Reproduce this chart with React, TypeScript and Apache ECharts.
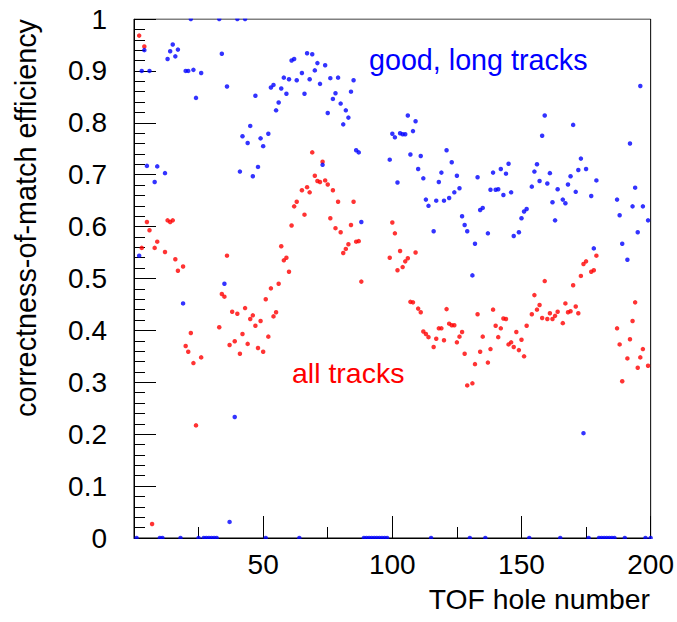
import React, { useEffect, useRef } from "react";
import * as echarts from "echarts";

// "good, long tracks" (blue): hole number -> efficiency
const goodHoles = [
  1, 2, 3, 4, 5, 6, 8, 9, 10, 11, 12, 13, 14, 15, 16, 17, 18, 19, 20, 21,
  22, 23, 24, 25, 26, 27, 28, 29, 30, 31, 32, 33, 34, 35, 36, 37, 39, 40, 41, 42,
  43, 44, 45, 46, 47, 48, 49, 50, 51, 52, 53, 54, 55, 56, 57, 58, 59, 60, 61, 62,
  63, 64, 65, 66, 67, 68, 69, 70, 71, 72, 73, 74, 75, 76, 77, 78, 79, 80, 81, 82,
  83, 84, 85, 86, 87, 88, 89, 90, 91, 92, 93, 94, 95, 96, 97, 98, 99, 100, 101, 102,
  103, 104, 105, 106, 107, 108, 109, 110, 111, 112, 113, 114, 115, 116, 117, 118, 119, 120, 121, 122,
  123, 124, 125, 126, 127, 128, 129, 130, 131, 132, 133, 134, 135, 136, 137, 138, 139, 140, 141, 142,
  143, 144, 145, 146, 147, 149, 150, 151, 152, 153, 154, 155, 156, 157, 158, 159, 160, 161, 162, 163,
  164, 165, 166, 167, 168, 169, 170, 171, 172, 173, 174, 175, 176, 177, 178, 179, 180, 181, 182, 183,
  184, 185, 186, 187, 188, 189, 190, 191, 192, 193, 194, 195, 196, 197, 198, 199, 200,
];
const goodEff = [
  0, 0.544, 0.9, 0.94, 0.717, 0.9, 0.686, 0.716, 0, 0, 0.703, 0.923, 0.938, 0.951, 0.928, 0.941, 0, 0.452, 0.9, 0.9,
  1.0, 0.902, 0.848, 0, 0.896, 0, 0, 0, 0, 0, 0, 1.0, 0.933, 0.49, 0.87, 0.031, 0.233, 1.0, 0.706, 0.774,
  1.0, 0.761, 0.794, 0.697, 0.852, 0.715, 0.77, 0.755, 0, 0.779, 0.868, 0.873, 0.824, 0.839, 0.866, 0.887, 0.856, 0.884, 0.92, 0.923,
  0.882, 0, 0.896, 0.856, 0.934, 0.884, 0.932, 0.901, 0.915, 0.875, 0.719, 0.911, 0.819, 0.886, 0.846, 0.857, 0.887, 0.837, 0.797, 0.824,
  0.81, 0.86, 0.882, 0.747, 0.743, 0.609, 0, 0, 0, 0, 0, 0, 0, 0, 0, 0, 0.729, 0.779, 0.772, 0.685,
  0.78, 0.778, 0.778, 0.814, 0.739, 0.784, 0.803, 0.711, 0.736, 0.693, 0.652, 0.64, 0, 0.591, 0.65, 0.686, 0.704, 0.65, 0.747, 0.655,
  0.724, 0.666, 0.698, 0.674, 0.62, 0.603, 0.591, 0, 0.506, 0.567, 0.695, 0.632, 0.636, 0, 0.587, 0.671, 0.704, 0.671, 0.672, 0.711,
  0.661, 0.702, 0.721, 0.666, 0.582, 0.589, 0.616, 0.629, 0.634, 0, 0.677, 0.706, 0.72, 0.688, 0.775, 0.814, 0.683, 0.703, 0.647, 0.612,
  0.672, 0, 0.652, 0.645, 0.681, 0.697, 0.796, 0.667, 0.709, 0.731, 0.202, 0.711, 0, 0.659, 0.558, 0.689, 0, 0, 0, 0,
  0, 0, 0, 0.652, 0.622, 0.567, 0, 0.536, 0.76, 0.639, 0.675, 0.589, 0.871, 0.639, 0, 0.612, 0,
];

// "all tracks" (red): hole number -> efficiency
const allHoles = [
  2, 3, 4, 5, 6, 7, 8, 9, 12, 13, 14, 15, 16, 17, 19, 20, 21, 22, 23, 24,
  26, 33, 34, 35, 36, 37, 38, 39, 40, 41, 42, 43, 44, 45, 46, 47, 48, 49, 50, 51,
  52, 53, 54, 55, 56, 57, 58, 59, 60, 61, 62, 63, 65, 66, 67, 68, 69, 70, 71, 72,
  73, 74, 75, 76, 77, 78, 79, 80, 81, 82, 83, 84, 85, 86, 87, 88, 99, 100, 101, 102,
  103, 104, 105, 106, 107, 108, 109, 110, 111, 112, 113, 114, 116, 117, 118, 119, 120, 121, 122, 123,
  124, 125, 126, 127, 128, 129, 131, 132, 133, 134, 135, 137, 138, 139, 140, 141, 142, 143, 144, 145,
  146, 147, 148, 149, 150, 151, 152, 154, 155, 156, 157, 158, 159, 160, 161, 162, 163, 164, 166, 167,
  168, 169, 170, 171, 172, 173, 174, 175, 177, 178, 179, 187, 188, 189, 191, 192, 193, 194, 195, 196,
  197, 199,
];
const allEff = [
  0.968, 0.559, 0.947, 0.609, 0.593, 0.027, 0.559, 0.571, 0.551, 0.612, 0.609, 0.612, 0.537, 0.515, 0.523, 0.37, 0.359, 0.395, 0.337, 0.217,
  0.348, 0.406, 0.47, 0.465, 0.544, 0.372, 0.436, 0.379, 0.432, 0.355, 0.393, 0.443, 0.374, 0.422, 0.429, 0.409, 0.366, 0.418, 0.359, 0.46,
  0.388, 0.481, 0.427, 0.435, 0.49, 0.562, 0.535, 0.54, 0.513, 0.602, 0.639, 0.648, 0.67, 0.623, 0.676, 0.666, 0.743, 0.698, 0.688, 0.686,
  0.725, 0.689, 0.681, 0.616, 0.67, 0.597, 0.648, 0.589, 0.549, 0.557, 0.566, 0.603, 0.648, 0.571, 0.572, 0.494, 0.54, 0.608, 0.587, 0.516,
  0.553, 0.522, 0.533, 0.539, 0.455, 0.454, 0.55, 0.442, 0.435, 0.398, 0.393, 0.387, 0.368, 0.384, 0.404, 0.404, 0.381, 0.441, 0.413, 0.41,
  0.41, 0.377, 0.388, 0.397, 0.355, 0.294, 0.298, 0.335, 0.431, 0.359, 0.388, 0.338, 0.364, 0.44, 0.409, 0.387, 0.404, 0.423, 0.422, 0.373,
  0.377, 0.368, 0.397, 0.362, 0.382, 0.35, 0.409, 0.431, 0.468, 0.44, 0.449, 0.424, 0.495, 0.422, 0.433, 0.422, 0.428, 0.436, 0.414, 0.452,
  0.435, 0.437, 0.487, 0.446, 0.433, 0.505, 0.528, 0.533, 0.513, 0.516, 0.544, 0.404, 0.373, 0.302, 0.346, 0.383, 0.418, 0.454, 0.328, 0.348,
  0.364, 0.332,
];

const xTickLabels = ["50", "100", "150", "200"];
const yTickLabels = ["0", "0.1", "0.2", "0.3", "0.4", "0.5", "0.6", "0.7", "0.8", "0.9", "1"];

const FONT = "'Liberation Sans', Arial, Helvetica, sans-serif";
const FS = 28;

export default function App() {
  const ref = useRef<HTMLDivElement>(null);
  useEffect(() => {
    if (!ref.current) return;
    const chart = echarts.init(ref.current, undefined, { renderer: "svg" });
    const good = goodHoles.map((h, i) => [h, goodEff[i]]);
    const all = allHoles.map((h, i) => [h, allEff[i]]);
    chart.setOption({
      animation: false,
      backgroundColor: "#ffffff",
      grid: {
        left: 134,
        right: 24,
        top: 19,
        bottom: 84,
        show: true,
        borderColor: "#000",
        borderWidth: 1,
        backgroundColor: "transparent",
      },
      xAxis: {
        type: "value",
        min: 0,
        max: 200,
        interval: 50,
        axisLine: { show: true, lineStyle: { color: "#000", width: 1 } },
        axisTick: { show: true, inside: true, length: 22, lineStyle: { color: "#000" } },
        minorTick: { show: true, splitNumber: 2, length: 11, lineStyle: { color: "#000" } },
        splitLine: { show: false },
        axisLabel: {
          show: true,
          margin: 12,
          fontSize: FS,
          fontFamily: FONT,
          color: "#000",
          showMinLabel: false,
          formatter: (v: number) => {
            const idx = Math.round(v / 50) - 1;
            return idx >= 0 && idx < xTickLabels.length ? xTickLabels[idx] : "";
          },
        },
      },
      yAxis: {
        type: "value",
        min: 0,
        max: 1,
        interval: 0.1,
        axisLine: { show: true, lineStyle: { color: "#000", width: 1 } },
        axisTick: { show: true, inside: true, length: 22, lineStyle: { color: "#000" } },
        minorTick: { show: true, splitNumber: 5, length: 11, lineStyle: { color: "#000" } },
        splitLine: { show: false },
        axisLabel: {
          show: true,
          margin: 27,
          fontSize: FS,
          fontFamily: FONT,
          color: "#000",
          formatter: (v: number) => yTickLabels[Math.round(v * 10)] ?? "",
        },
      },
      series: [
        {
          name: "all tracks",
          type: "scatter",
          data: all,
          symbol: "circle",
          symbolSize: 4.5,
          itemStyle: { color: "#ff0000" },
          z: 3,
        },
        {
          name: "good, long tracks",
          type: "scatter",
          data: good,
          symbol: "circle",
          symbolSize: 4.5,
          itemStyle: { color: "#0000ff" },
          z: 4,
        },
      ],
      graphic: [
        {
          type: "rect",
          z: 100,
          shape: { x: 120, y: 539, width: 545, height: 8 },
          style: { fill: "#fff" },
        },
        {
          type: "rect",
          z: 100,
          shape: { x: 120, y: 8, width: 545, height: 10.5 },
          style: { fill: "#fff" },
        },
        {
          type: "text",
          z: 101,
          x: 369,
          y: 60,
          style: {
            text: "good, long tracks",
            fill: "#0000ff",
            font: `28.7px ${FONT}`,
            textAlign: "left",
            textVerticalAlign: "middle",
          },
        },
        {
          type: "text",
          z: 101,
          x: 292,
          y: 373,
          style: {
            text: "all tracks",
            fill: "#ff0000",
            font: `28.5px ${FONT}`,
            textAlign: "left",
            textVerticalAlign: "middle",
          },
        },
        {
          type: "text",
          z: 101,
          x: 650,
          y: 599,
          style: {
            text: "TOF hole number",
            fill: "#000",
            font: `28.3px ${FONT}`,
            textAlign: "right",
            textVerticalAlign: "middle",
          },
        },
        {
          type: "text",
          z: 101,
          x: 26,
          y: 19,
          rotation: Math.PI / 2,
          style: {
            text: "correctness-of-match efficiency",
            fill: "#000",
            font: `28.8px ${FONT}`,
            textAlign: "right",
            textVerticalAlign: "middle",
          },
        },
      ],
    });
    return () => chart.dispose();
  }, []);
  return (
    <div
      ref={ref}
      style={{ position: "fixed", left: 0, top: 0, width: 677, height: 622, background: "#fff" }}
    />
  );
}
